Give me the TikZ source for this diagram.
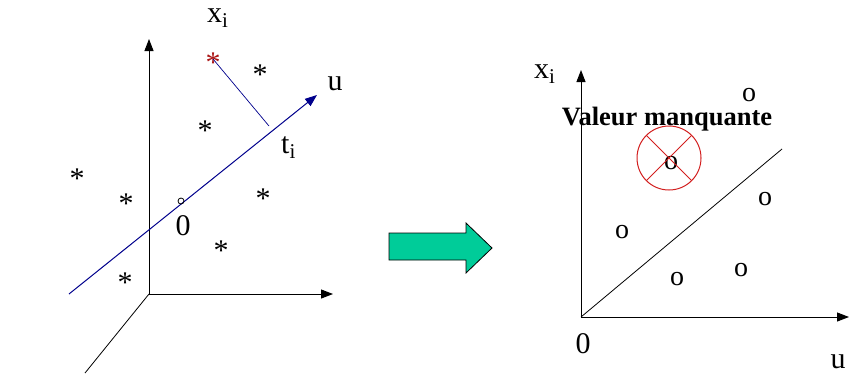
\documentclass[tikz,border=0pt]{standalone}
\usepackage{fontspec}
\setmainfont{Liberation Serif}
\usetikzlibrary{arrows.meta}

\definecolor{uline}{RGB}{0,0,140}
\definecolor{missred}{RGB}{210,30,30}
\definecolor{starred}{RGB}{170,20,20}
\definecolor{arrowgreen}{RGB}{0,204,153}

\tikzset{
  axis/.style={line width=1pt, -{Triangle[length=12pt,width=9pt]}},
  lbl/.style={font=\fontsize{30}{30}\selectfont, inner sep=0pt, anchor=base},
  starpt/.style={font=\fontsize{30}{30}\selectfont, inner sep=0pt, anchor=base, yshift=-13pt},
  obs/.style={font=\fontsize{28}{28}\selectfont, inner sep=0pt, anchor=base, yshift=-6pt},
}

\begin{document}
\begin{tikzpicture}[x=1pt,y=-1pt]
  \useasboundingbox (0,0) rectangle (850,373);

  % ---- left panel: space of the variables
  \coordinate (O) at (149,294);
  \coordinate (Xtop) at (149,39);
  \coordinate (Xright) at (333,294);
  \coordinate (Xdiag) at (85,373);
  \draw[axis] (O) -- (Xtop);
  \draw[axis] (O) -- (Xright);
  \draw[line width=0.8pt] (O) -- (Xdiag);

  % direction u
  \coordinate (ustart) at (69,294);
  \coordinate (uend) at (317,95);
  \draw[uline, line width=1pt, -{Triangle[length=12pt,width=9pt]}] (ustart) -- (uend);
  \node[lbl] (ulab) at (335,90) {u};

  % observation x_i projected on u
  \coordinate (xic) at (213,59);
  \coordinate (ti) at (269,126);
  \node[starpt, text=starred] (xi) at (xic) {*};
  \draw[uline, line width=0.7pt] (xic) -- (ti);
  \node[lbl, anchor=base west] (xilab) at (207,22) {x\textsubscript{i}};
  \node[lbl, anchor=base west] (tilab) at (281,153) {t\textsubscript{i}};

  % origin
  \node[circle, draw, line width=0.8pt, inner sep=0pt, minimum size=6pt] (orig) at (181,201) {};
  \node[lbl] (zero) at (183,235) {0};

  % other observations
  \foreach \px/\py [count=\k] in {260/71, 205/127, 77/175, 126/200, 263/195, 221/247, 125/279}
    \node[starpt] (s\k) at (\px,\py) {*};

  % ---- transition arrow
  \draw[fill=arrowgreen, line width=0.8pt]
    (389,233) -- (466,233) -- (466,223) -- (492,248) -- (466,273) -- (466,260) -- (389,260) -- cycle;

  % ---- right panel: plane (u, x_i)
  \coordinate (O2) at (581,317);
  \coordinate (Y2) at (581,70);
  \coordinate (U2) at (849,317);
  \coordinate (D2) at (782,149);
  \draw[axis] (O2) -- (Y2);
  \draw[axis] (O2) -- (U2);
  \draw[line width=0.8pt] (O2) -- (D2);
  \node[lbl, anchor=base west] (xilab2) at (534,78) {x\textsubscript{i}};
  \node[lbl] (zero2) at (583,353) {0};
  \node[lbl] (ulab2) at (838,368) {u};

  % observations
  \foreach \px/\py [count=\k] in {749/95, 765/199, 622/232, 677/279, 741/270, 671/163}
    \node[obs] (o\k) at (\px,\py) {o};

  % missing value
  \coordinate (miss) at (669,158);
  \draw[missred, line width=1pt] (miss) circle (32);
  \draw[missred, line width=0.8pt] (miss) ++(135:32) coordinate (ma) -- (miss) -- ++(-45:32) coordinate (mb);
  \draw[missred, line width=0.8pt] (miss) ++(45:32) coordinate (mc) -- (miss) -- ++(-135:32) coordinate (md);
  \node[lbl, font=\fontsize{26.5}{26.5}\selectfont\bfseries] (misslab) at (667,125) {Valeur manquante};
\end{tikzpicture}
\end{document}
